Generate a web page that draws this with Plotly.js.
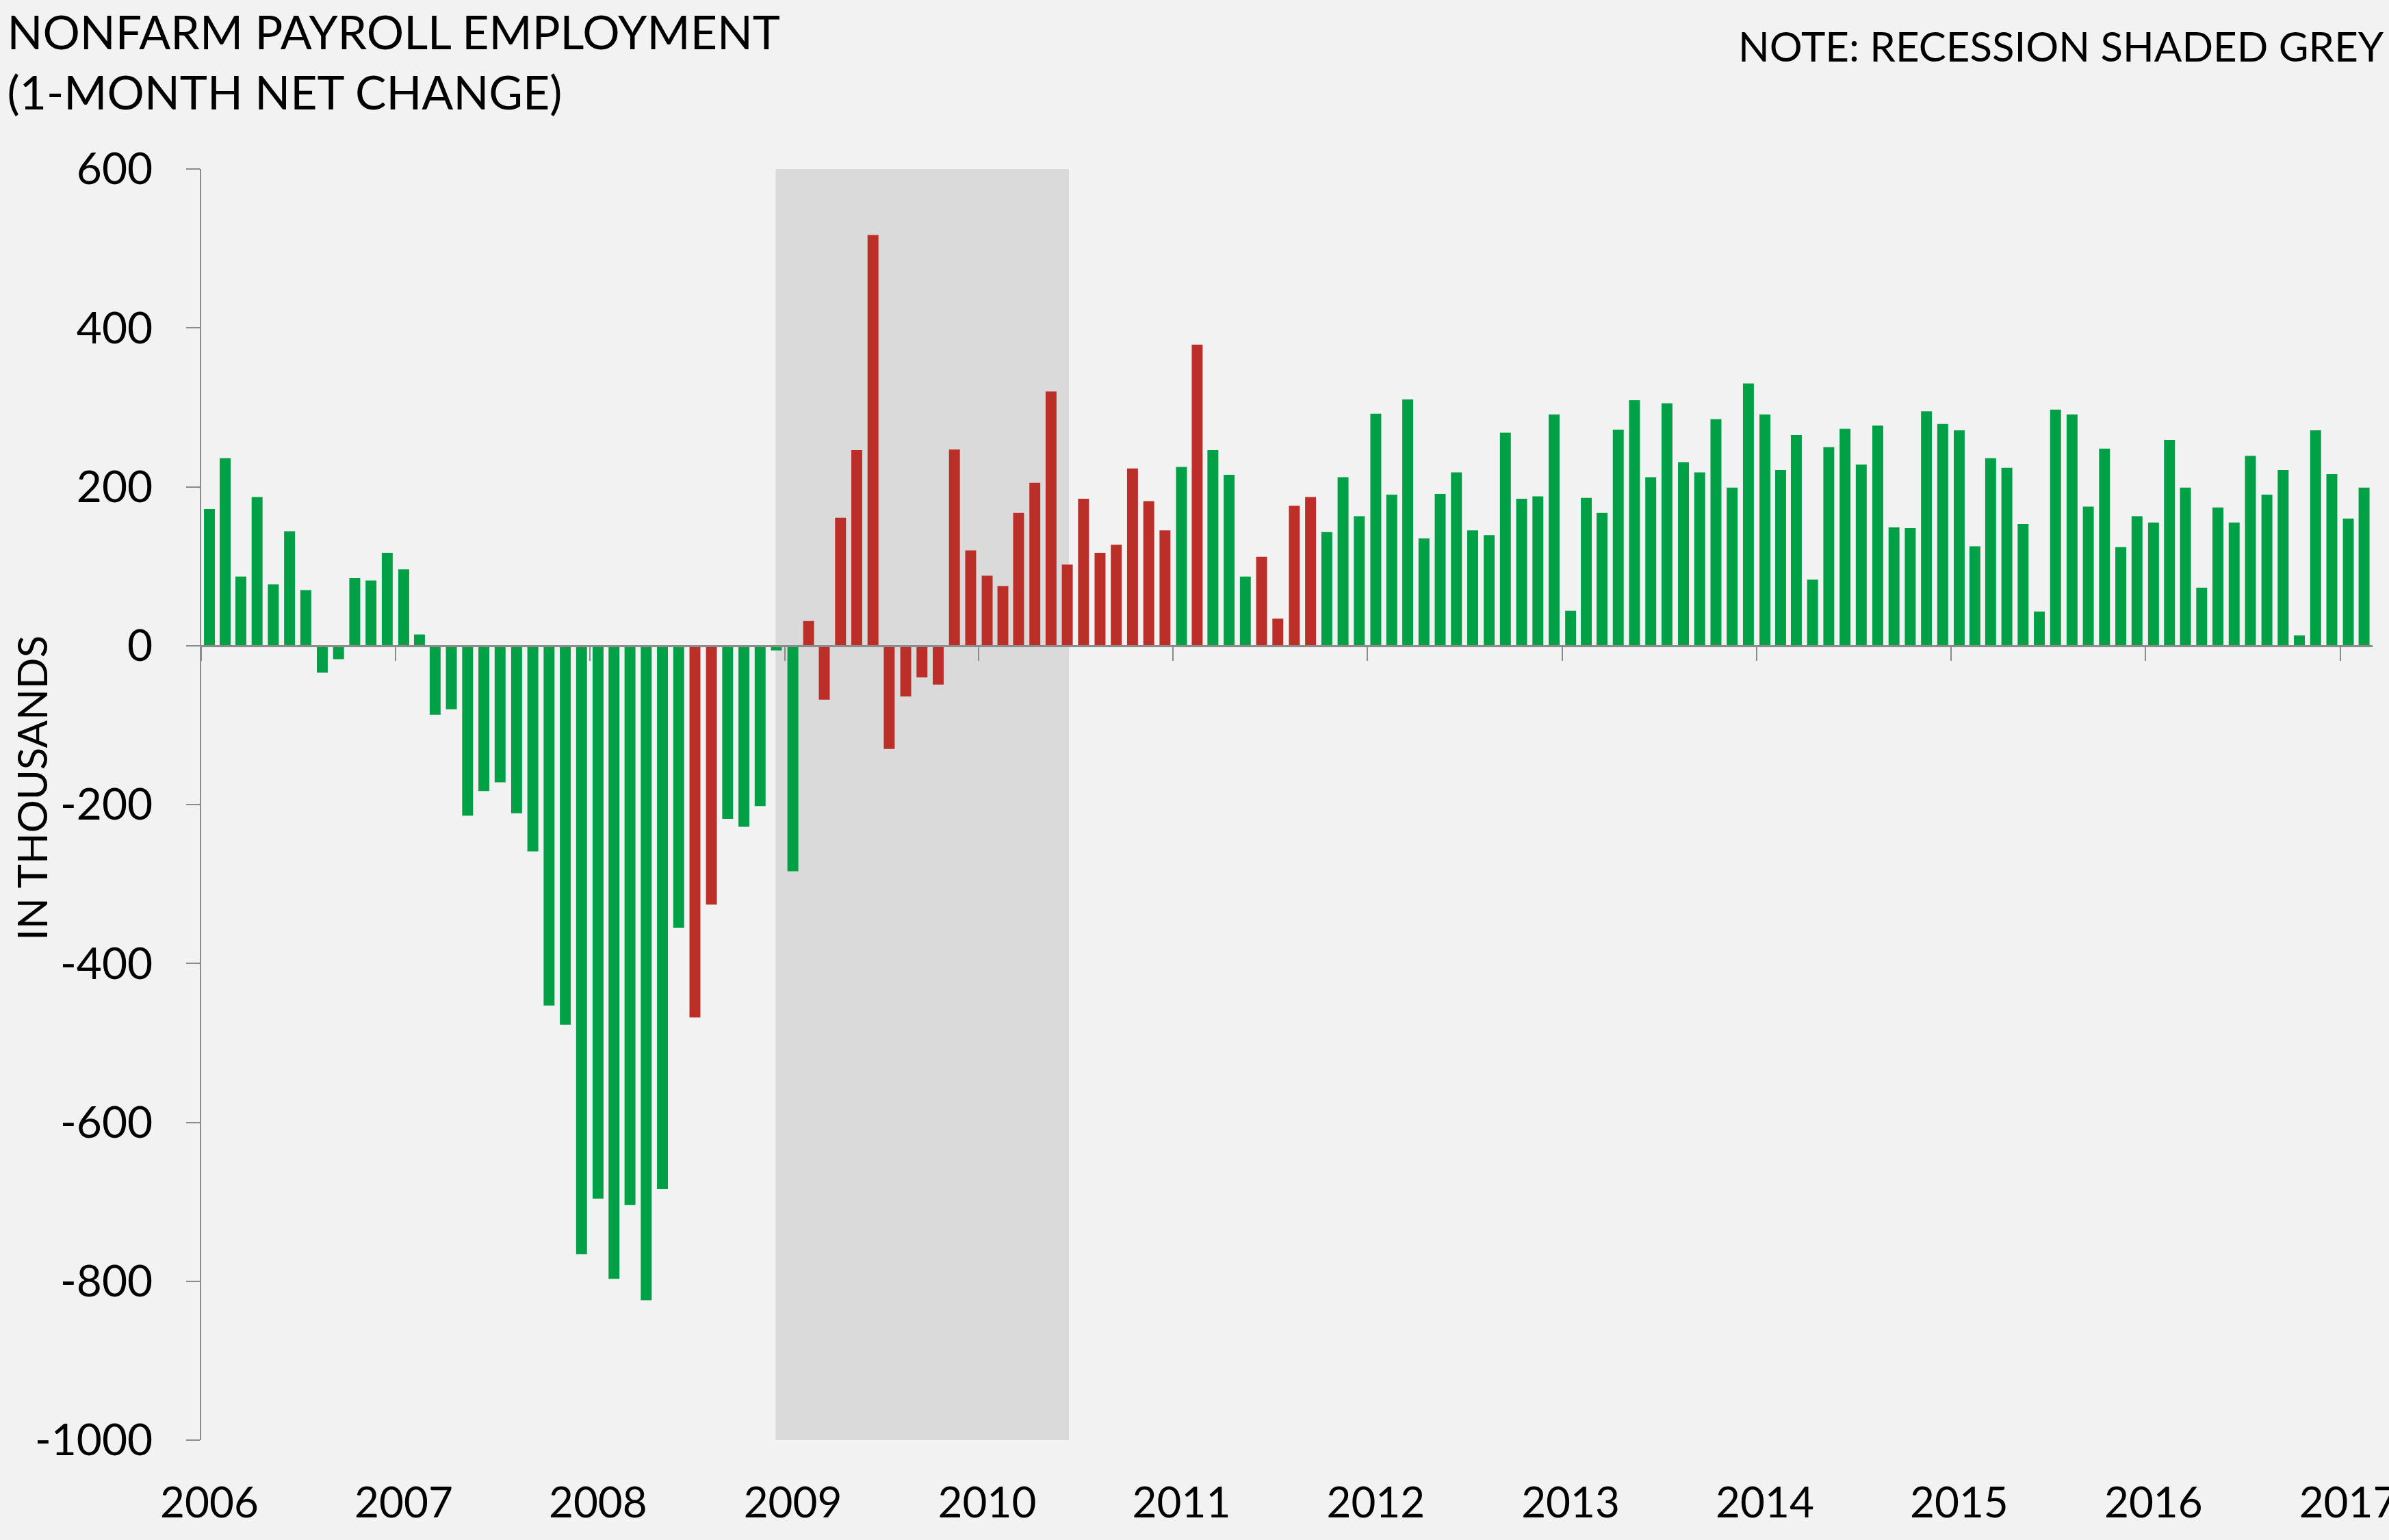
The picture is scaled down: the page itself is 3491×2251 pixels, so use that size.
<!DOCTYPE html>
<html>
<head>
<meta charset="utf-8">
<script src="https://cdn.plot.ly/plotly-3.0.1.min.js"></script>
<style>
  html, body { margin: 0; padding: 0; background: #f2f2f2; }
  #chart { width: 3491px; height: 2251px; }
</style>
</head>
<body>
<div id="chart"></div>
<script>
// ---------- DATA ----------
const months = [
  '2006-01','2006-02','2006-03','2006-04','2006-05','2006-06','2006-07','2006-08','2006-09','2006-10','2006-11','2006-12',
  '2007-01','2007-02','2007-03','2007-04','2007-05','2007-06','2007-07','2007-08','2007-09','2007-10','2007-11','2007-12',
  '2008-01','2008-02','2008-03','2008-04','2008-05','2008-06','2008-07','2008-08','2008-09','2008-10','2008-11','2008-12',
  '2009-01','2009-02','2009-03','2009-04','2009-05','2009-06','2009-07','2009-08','2009-09','2009-10','2009-11','2009-12',
  '2010-01','2010-02','2010-03','2010-04','2010-05','2010-06','2010-07','2010-08','2010-09','2010-10','2010-11','2010-12',
  '2011-01','2011-02','2011-03','2011-04','2011-05','2011-06','2011-07','2011-08','2011-09','2011-10','2011-11','2011-12',
  '2012-01','2012-02','2012-03','2012-04','2012-05','2012-06','2012-07','2012-08','2012-09','2012-10','2012-11','2012-12',
  '2013-01','2013-02','2013-03','2013-04','2013-05','2013-06','2013-07','2013-08','2013-09','2013-10','2013-11','2013-12',
  '2014-01','2014-02','2014-03','2014-04','2014-05','2014-06','2014-07','2014-08','2014-09','2014-10','2014-11','2014-12',
  '2015-01','2015-02','2015-03','2015-04','2015-05','2015-06','2015-07','2015-08','2015-09','2015-10','2015-11','2015-12',
  '2016-01','2016-02','2016-03','2016-04','2016-05','2016-06','2016-07','2016-08','2016-09','2016-10','2016-11','2016-12',
  '2017-01','2017-02'
];

// 1-month net change in nonfarm payrolls, thousands
const values = [
  172, 236, 87, 187, 77, 144, 70, -34, -17, 85, 82, 117,
  96, 14, -87, -80, -214, -183, -172, -211, -259, -453, -477, -766,
  -696, -797, -704, -824, -684, -355, -468, -326, -218, -228, -202, -6,
  -284, 31, -68, 161, 246, 517, -130, -64, -40, -49, 247, 120,
  88, 75, 167, 205, 320, 102, 185, 117, 127, 223, 182, 145,
  225, 379, 246, 215, 87, 112, 34, 176, 187, 143, 212, 163,
  292, 190, 310, 135, 191, 218, 145, 139, 268, 185, 188, 291,
  44, 186, 167, 272, 309, 212, 305, 231, 218, 285, 199, 330,
  291, 221, 265, 83, 250, 273, 228, 277, 149, 148, 295, 279,
  271, 125, 236, 224, 153, 43, 297, 291, 175, 248, 124, 163,
  155, 259, 199, 73, 174, 155, 239, 190, 221, 13, 271, 216,
  160, 199
];

// months drawn in the second (red) group
const redMonths = [
  '2008-07','2008-08',
  '2009-02','2009-03','2009-04','2009-05','2009-06','2009-07','2009-08','2009-09','2009-10','2009-11','2009-12',
  '2010-01','2010-02','2010-03','2010-04','2010-05','2010-06','2010-07','2010-08','2010-09','2010-10','2010-11','2010-12',
  '2011-02','2011-06','2011-07','2011-08','2011-09'
];

const yearLabels = ['2006','2007','2008','2009','2010','2011','2012','2013','2014','2015','2016','2017'];
const yTickValues = [600, 400, 200, 0, -200, -400, -600, -800, -1000];
const yTickLabels = ['600', '400', '200', '0', '-200', '-400', '-600', '-800', '-1000'];

const recessionStart = '2008-12-15';
const recessionEnd = '2010-06-19';

// ---------- STYLE ----------
const GREEN = '#00a046';
const RED = '#bc2e28';
const AXIS_GREY = '#8c8c8c';
const BG = '#f2f2f2';
const FONT = 'Lato, "Open Sans", sans-serif';
const DAY_MS = 86400000;
const BAR_WIDTH_MS = 20.5 * DAY_MS;

const colors = months.map(m => redMonths.includes(m) ? RED : GREEN);
const yearTicks = yearLabels.map(y => y + '-01-01');
const xRange = ['2006-01-01', '2017-03-03'];

const traces = [
  {
    type: 'bar',
    x: months,
    y: values,
    xperiod: 'M1',
    xperiodalignment: 'middle',
    width: BAR_WIDTH_MS,
    marker: { color: colors, line: { width: 0 } },
    hovertemplate: '%{x|%b %Y}: %{y}<extra></extra>',
    showlegend: false
  },
  {
    type: 'scatter',
    mode: 'lines',
    x: [months[0], months[months.length - 1]],
    y: [0, 0],
    xaxis: 'x2',
    yaxis: 'y',
    line: { width: 0, color: 'rgba(0,0,0,0)' },
    hoverinfo: 'skip',
    showlegend: false
  }
];

const layout = {
  width: 3491,
  height: 2251,
  paper_bgcolor: BG,
  plot_bgcolor: BG,
  margin: { l: 294, r: 24, t: 247, b: 146, autoexpand: false },
  showlegend: false,
  font: { family: FONT, color: '#000000' },
  title: {
    text: 'NONFARM PAYROLL EMPLOYMENT<br>(1-MONTH NET CHANGE)',
    xref: 'container', yref: 'container',
    x: 0.003, xanchor: 'left',
    y: 0.968, yanchor: 'top',
    font: { family: FONT, size: 68, color: '#000000' }
  },
  xaxis: {
    type: 'date',
    range: xRange,
    tickvals: yearTicks,
    ticktext: yearLabels,
    showline: false,
    showgrid: false,
    zeroline: false,
    ticks: 'outside',
    ticklen: 38,
    tickcolor: 'rgba(0,0,0,0)',
    ticklabelshift: 12,
    ticklabeloverflow: 'allow',
    tickfont: { family: FONT, size: 62, color: '#000000' },
    fixedrange: true
  },
  xaxis2: {
    type: 'date',
    range: xRange,
    overlaying: 'x',
    anchor: 'free',
    position: 0.625,
    side: 'bottom',
    showline: true,
    linecolor: AXIS_GREY,
    linewidth: 3,
    ticks: 'outside',
    ticklen: 20,
    tickwidth: 2,
    tickcolor: AXIS_GREY,
    tickvals: yearTicks,
    showticklabels: false,
    showgrid: false,
    zeroline: false,
    fixedrange: true
  },
  yaxis: {
    range: [-1000, 600],
    tickvals: yTickValues,
    ticktext: yTickLabels,
    showline: true,
    linecolor: AXIS_GREY,
    linewidth: 2,
    ticks: 'outside',
    ticklen: 20,
    tickwidth: 2,
    tickcolor: AXIS_GREY,
    ticklabelstandoff: 36,
    tickfont: { family: FONT, size: 64, color: '#000000' },
    showgrid: false,
    zeroline: false,
    fixedrange: true
  },
  shapes: [
    {
      type: 'rect', xref: 'x', yref: 'y',
      x0: recessionStart, x1: recessionEnd, y0: -1000, y1: 600,
      fillcolor: '#dadada', line: { width: 0 }, layer: 'below'
    }
  ],
  annotations: [
    {
      text: 'NOTE: RECESSION SHADED GREY',
      xref: 'paper', yref: 'paper',
      x: 1.006, xanchor: 'right',
      y: 1.097, yanchor: 'middle',
      showarrow: false,
      font: { family: FONT, size: 60, color: '#000000' }
    },
    {
      text: 'IN THOUSANDS',
      xref: 'paper', yref: 'paper',
      x: -0.0782, xanchor: 'center',
      y: 0.513, yanchor: 'middle',
      textangle: -90,
      showarrow: false,
      font: { family: FONT, size: 60, color: '#000000' }
    }
  ]
};

Plotly.newPlot('chart', traces, layout, { displayModeBar: false, staticPlot: true });
</script>
</body>
</html>
